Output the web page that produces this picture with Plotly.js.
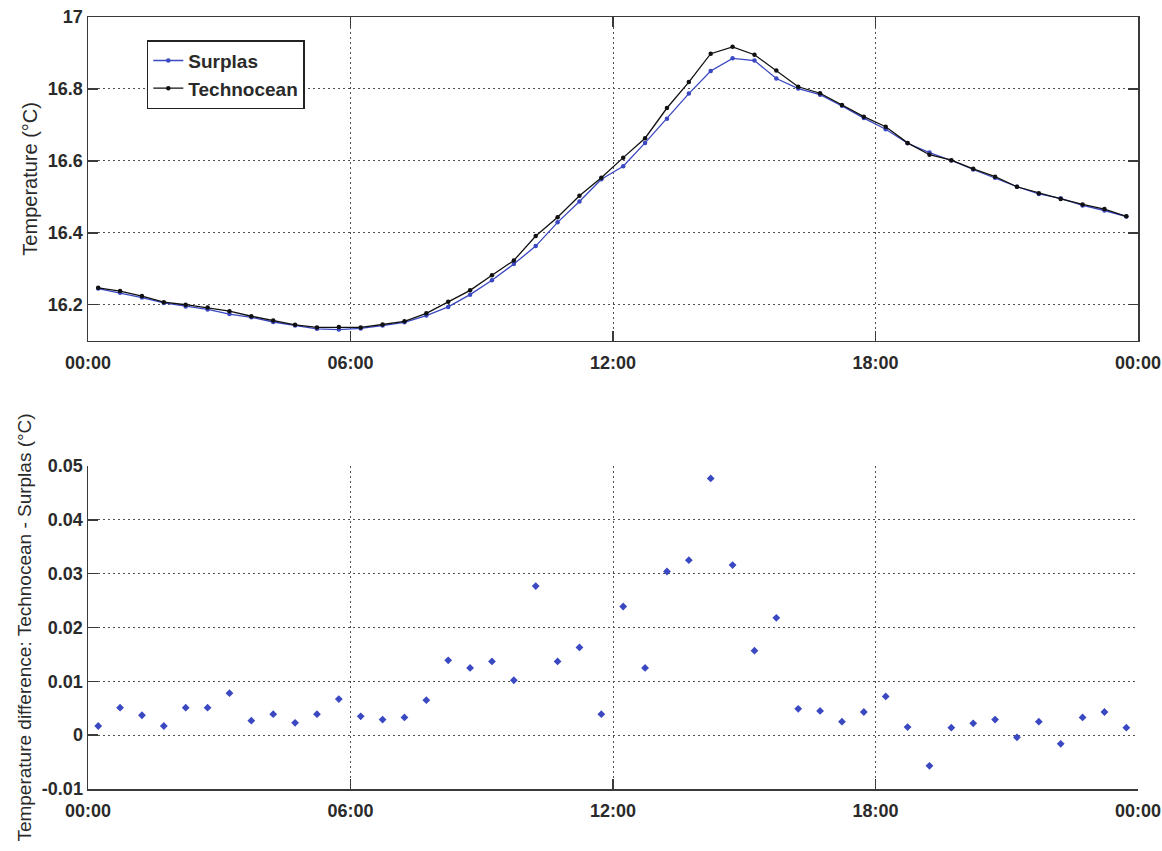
<!DOCTYPE html>
<html><head><meta charset="utf-8">
<script src="https://cdn.plot.ly/plotly-3.0.1.min.js"></script>
<style>html,body{margin:0;padding:0;background:#fff}#chart{width:1162px;height:851px}</style>
</head><body><div id="chart"></div>
<script>
const times = ['00:14','00:44','01:14','01:44','02:14','02:44','03:14','03:44','04:14','04:44','05:14','05:44',
  '06:14','06:44','07:14','07:44','08:14','08:44','09:14','09:44','10:14','10:44','11:14','11:44',
  '12:14','12:44','13:14','13:44','14:14','14:44','15:14','15:44','16:14','16:44','17:14','17:44',
  '18:14','18:44','19:14','19:44','20:14','20:44','21:14','21:44','22:14','22:44','23:14','23:44'];
const surplas = [16.245,16.233,16.220,16.205,16.195,16.187,16.174,16.165,16.152,16.142,16.133,16.131,
  16.134,16.142,16.151,16.170,16.194,16.228,16.268,16.313,16.363,16.429,16.487,16.549,
  16.585,16.650,16.717,16.787,16.850,16.885,16.879,16.829,16.801,16.784,16.753,16.719,
  16.688,16.649,16.623,16.601,16.576,16.553,16.528,16.508,16.496,16.476,16.462,16.445];
const technocean = [16.247,16.238,16.224,16.207,16.200,16.192,16.182,16.168,16.156,16.144,16.137,16.138,
  16.137,16.145,16.154,16.176,16.208,16.240,16.282,16.323,16.391,16.443,16.503,16.553,
  16.609,16.663,16.747,16.819,16.898,16.917,16.895,16.851,16.806,16.788,16.755,16.723,
  16.695,16.650,16.617,16.602,16.578,16.556,16.528,16.510,16.494,16.479,16.466,16.446];
const difference = [0.0017,0.0051,0.0037,0.0017,0.0051,0.0051,0.0078,0.0027,0.0039,0.0023,0.0039,0.0067,
  0.0035,0.0029,0.0033,0.0065,0.0139,0.0125,0.0137,0.0102,0.0277,0.0137,0.0163,0.0039,
  0.0239,0.0125,0.0304,0.0325,0.0477,0.0316,0.0157,0.0218,0.0049,0.0045,0.0025,0.0043,
  0.0072,0.0015,-0.0057,0.0014,0.0022,0.0029,-0.0004,0.0025,-0.0016,0.0033,0.0043,0.0014];
const xTickVals = ['2000-01-01 00:00','2000-01-01 06:00','2000-01-01 12:00','2000-01-01 18:00','2000-01-02 00:00'];
const xTickText = ['00:00','06:00','12:00','18:00','00:00'];
const tempTickVals = [16.2,16.4,16.6,16.8,17];
const tempTickText = ['16.2','16.4','16.6','16.8','17'];
const diffTickVals = [-0.01,0,0.01,0.02,0.03,0.04,0.05];
const diffTickText = ['-0.01','0','0.01','0.02','0.03','0.04','0.05'];

const x = times.map(t => '2000-01-01 ' + t + ':00');
const FONT = 'Liberation Sans, Arial, Helvetica, sans-serif';
const TXT = '#2a2a2a';
const BLUE = '#3a48c2';
const AX = '#3a3a3a';
const GRID = '#505050';

const xBase = {
  type: 'date', range: ['2000-01-01 00:00', '2000-01-02 00:00'],
  tickvals: xTickVals, ticktext: xTickText,
  showline: true, linecolor: AX, linewidth: 1.5,
  ticks: 'inside', ticklen: 10, tickcolor: AX, tickwidth: 1.5,
  showgrid: true, gridcolor: GRID, griddash: '2px,3px', gridwidth: 1,
  zeroline: false, ticklabelstandoff: 5,
  tickfont: {family: FONT, size: 18, color: TXT, weight: 'bold'}
};
const yBase = {
  showline: true, linecolor: AX, linewidth: 1.5,
  ticks: 'inside', ticklen: 10, tickcolor: AX, tickwidth: 1.5,
  showgrid: true, gridcolor: GRID, griddash: '2px,3px', gridwidth: 1,
  zeroline: false,
  tickfont: {family: FONT, size: 18, color: TXT, weight: 'bold'}
};

const traces = [
  {x: x, y: surplas, name: 'Surplas', type: 'scatter', mode: 'lines+markers',
   line: {color: BLUE, width: 1.3}, marker: {color: BLUE, size: 4.5, symbol: 'circle'},
   xaxis: 'x', yaxis: 'y'},
  {x: x, y: technocean, name: 'Technocean', type: 'scatter', mode: 'lines+markers',
   line: {color: '#111111', width: 1.3}, marker: {color: '#111111', size: 4.5, symbol: 'circle'},
   xaxis: 'x', yaxis: 'y'},
  {x: x, y: difference, name: 'Difference', type: 'scatter', mode: 'markers', showlegend: false,
   marker: {color: BLUE, size: 6, symbol: 'diamond'}, xaxis: 'x2', yaxis: 'y2'}
];

const layout = {
  width: 1162, height: 851,
  paper_bgcolor: '#ffffff', plot_bgcolor: '#ffffff',
  margin: {l: 88, r: 24, t: 17, b: 62},
  showlegend: true,
  legend: {x: 0.056, y: 0.970, xanchor: 'left', yanchor: 'top', xref: 'paper', yref: 'paper',
    bgcolor: '#ffffff', bordercolor: '#222222', borderwidth: 1.5,
    font: {family: FONT, size: 19, color: TXT, weight: 'bold'}, tracegroupgap: 0},
  xaxis: Object.assign({}, xBase, {domain: [0, 1], anchor: 'y', mirror: 'ticks'}),
  yaxis: Object.assign({}, yBase, {domain: [0.5807, 1], anchor: 'x', mirror: 'ticks',
    range: [16.1, 17], tickvals: tempTickVals, ticktext: tempTickText,
    title: {text: 'Temperature (°C)', font: {family: FONT, size: 20, color: TXT}, standoff: 5}}),
  xaxis2: Object.assign({}, xBase, {domain: [0, 1], anchor: 'y2'}),
  yaxis2: Object.assign({}, yBase, {domain: [0, 0.4184], anchor: 'x2',
    range: [-0.01, 0.05], tickvals: diffTickVals, ticktext: diffTickText,
    title: {text: 'Temperature difference: Technocean - Surplas (°C)', font: {family: FONT, size: 19, color: TXT}, standoff: 5}})
};

Plotly.newPlot('chart', traces, layout, {displayModeBar: false, staticPlot: true});
</script>
</body></html>
